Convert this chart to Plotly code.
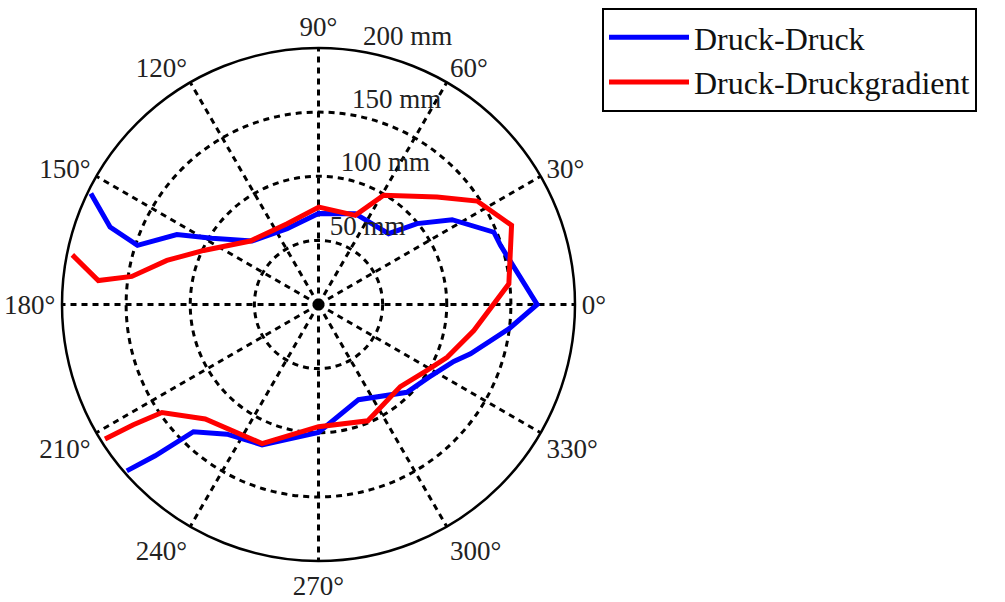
import plotly.graph_objects as go

# Druck-Druck (blue)
theta_dd = [154.0, 159.6, 161.9, 153.7, 148.1, 136.3, 112.5, 90.0, 68.0, 45.3, 39.4, 32.4,
            22.4, 18.0, 0.0, -7.3, -18.0, -22.8, -33.5, -44.8, -67.2, -90.0, -111.9, -125.2,
            -134.5, -137.2, -139.05]
r_dd = [197.5, 173.4, 148.5, 123.2, 97.9, 71.6, 64.0, 70.9, 76.4, 77.7, 99.4, 123.4,
        147.9, 149.2, 170.5, 149.6, 124.6, 114.4, 103.0, 97.2, 80.5, 99.8, 117.9, 123.7,
        139.1, 173.6, 197.9]

# Druck-Druckgradient (red)
theta_dg = [168.6, 173.8, 171.45, 163.8, 154.8, 137.05, 111.2, 89.8, 67.6, 59.2, 42.2, 33.1,
            22.3, 6.2, -9.5, -22.3, -32.0, -45.1, -67.0, -90.0, -112.1, -134.7, -145.4,
            -147.0, -147.8]
r_dg = [195.8, 172.7, 147.2, 123.1, 99.0, 72.6, 67.6, 76.0, 75.2, 99.1, 124.8, 147.7,
        162.7, 149.3, 122.8, 108.4, 98.3, 90.4, 98.5, 95.3, 117.0, 125.6, 148.3,
        172.1, 196.7]

series_names = ["Druck-Druck", "Druck-Druckgradient"]
series_colors = ["#0000ff", "#ff0000"]

radial_ticks = [50, 100, 150, 200]
radial_labels = ["50 mm", "100 mm", "150 mm", "200 mm"]
radial_label_angle = 80
angular_ticks = [0, 30, 60, 90, 120, 150, 180, 210, 240, 270, 300, 330]
angular_labels = [f"{a}°" for a in angular_ticks]

FONT = "Liberation Serif"
DASH = "6px,5px"

fig = go.Figure()
for th, rr, name, col in [(theta_dd, r_dd, series_names[0], series_colors[0]),
                          (theta_dg, r_dg, series_names[1], series_colors[1])]:
    fig.add_trace(go.Scatterpolar(r=rr, theta=th, mode="lines", name=name,
                                  line=dict(color=col, width=5)))

# radial tick labels, placed along the 80 degree direction
fig.add_trace(go.Scatterpolar(r=radial_ticks, theta=[radial_label_angle] * len(radial_ticks),
                              mode="text", text=radial_labels, textposition="top right",
                              textfont=dict(family=FONT, size=27, color="#222222"),
                              showlegend=False, hoverinfo="skip"))

fig.update_layout(
    width=1005, height=602,
    margin=dict(l=0, r=0, t=0, b=0),
    paper_bgcolor="white",
    font=dict(family=FONT, size=27, color="#222222"),
    polar=dict(
        domain=dict(x=[62 / 1005, 575 / 1005], y=[1 - 561 / 602, 1 - 48 / 602]),
        bgcolor="white",
        radialaxis=dict(range=[0, 200], tickvals=radial_ticks, showticklabels=False,
                        showline=False, ticks="", gridcolor="black", griddash=DASH,
                        gridwidth=2.5),
        angularaxis=dict(tickvals=angular_ticks, ticktext=angular_labels,
                         direction="counterclockwise", rotation=0, ticks="",
                         showline=True, linecolor="black", linewidth=2.5,
                         gridcolor="black", griddash=DASH, gridwidth=2.5,
                         tickfont=dict(family=FONT, size=27, color="#222222")),
    ),
    showlegend=True,
    legend=dict(x=602 / 1005, y=1 - 8 / 602, xanchor="left", yanchor="top",
                bgcolor="white", bordercolor="black", borderwidth=2,
                font=dict(family=FONT, size=32, color="#111111"),
                itemwidth=80, tracegroupgap=0),
)

fig.write_html("out.html")
